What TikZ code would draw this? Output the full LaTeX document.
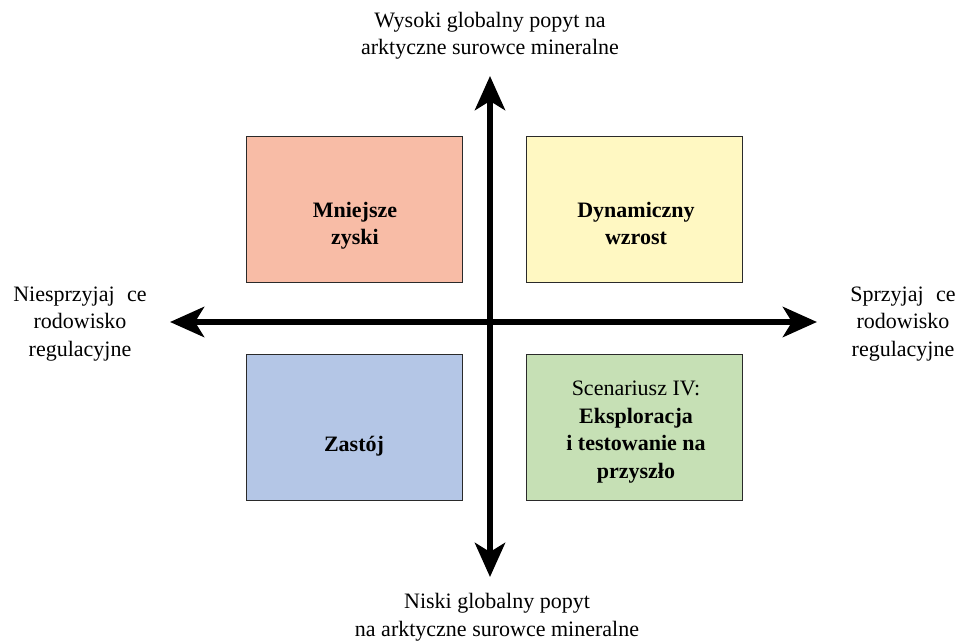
\documentclass[tikz,border=0pt]{standalone}
\usepackage{fontspec}
\setmainfont{Liberation Serif}
\usetikzlibrary{arrows.meta}
\definecolor{csalmon}{HTML}{F8BCA6}
\definecolor{cyellow}{HTML}{FFF8C2}
\definecolor{cblue}{HTML}{B4C6E6}
\definecolor{cgreen}{HTML}{C6E0B5}
\definecolor{cborder}{HTML}{2A2A2A}
\begin{document}
\begin{tikzpicture}[x=1pt,y=-1pt,
  quad/.style={draw=cborder,line width=1.3pt,minimum width=216pt,minimum height=146pt,inner sep=0pt,anchor=north west},
  lbl/.style={align=center,font=\fontsize{22}{27.5}\selectfont,inner sep=0pt,anchor=base},
  blbl/.style={lbl,font=\fontsize{22}{27.5}\selectfont\bfseries},
  axis/.style={line width=6.5pt,{Stealth[length=34pt,width=30pt,inset=9pt]}-{Stealth[length=34pt,width=30pt,inset=9pt]}}]
\useasboundingbox (0,0) rectangle (961,644);
\node[quad,fill=csalmon] (q1) at (246,136) {};
\node[quad,fill=cyellow] (q2) at (526,136) {};
\node[quad,fill=cblue] (q3) at (246,354) {};
\node[quad,fill=cgreen] (q4) at (526,354) {};
\coordinate (l) at (170,322);
\coordinate (r) at (817,322);
\coordinate (t) at (490,76);
\coordinate (b) at (490,577);
\draw[axis] (l) -- (r);
\draw[axis] (b) -- (t);
\node[blbl] (t1) at (355,245) {Mniejsze\\zyski};
\node[blbl] (t2) at (636,245) {Dynamiczny\\wzrost};
\node[blbl] (t3) at (354,451) {Zastój};
\node[lbl] (t4) at (636,478) {Scenariusz IV:\\\textbf{Eksploracja}\\\textbf{i testowanie na}\\\textbf{przyszło\hspace{16pt}}};
\node[lbl] (top) at (490,55) {Wysoki globalny popyt na\\arktyczne surowce mineralne};
\node[lbl] (bot) at (497,636) {Niski globalny popyt\\na arktyczne surowce mineralne};
\node[lbl] (lft) at (80,356) {Niesprzyjaj\hspace{7pt} ce\\rodowisko\\regulacyjne};
\node[lbl] (rgt) at (903,356) {Sprzyjaj\hspace{7pt} ce\\rodowisko\\regulacyjne};
\end{tikzpicture}
\end{document}
